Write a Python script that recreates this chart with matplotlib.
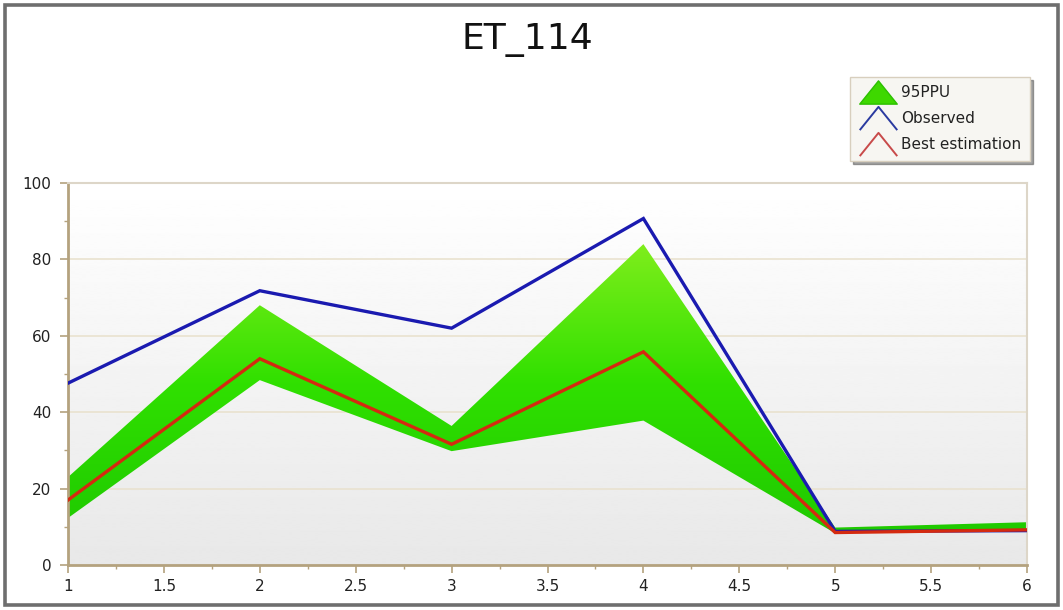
import numpy as np
import matplotlib
matplotlib.use("Agg")
import matplotlib.pyplot as plt
from matplotlib.lines import Line2D
from matplotlib.path import Path
from matplotlib.patches import Rectangle
from matplotlib.ticker import MultipleLocator, FuncFormatter
from matplotlib.colors import LinearSegmentedColormap

# Series values
x = [1, 2, 3, 4, 5, 6]
observed = [47.6, 71.8, 62.0, 90.7, 8.8, 9.0]
ppu_upper = [23.0, 68.0, 36.4, 84.0, 9.8, 11.2]
ppu_lower = [12.3, 48.4, 29.8, 37.8, 8.3, 9.0]
best_est = [17.0, 54.0, 31.6, 55.8, 8.5, 9.2]

title = "ET_114"
labels = ["95PPU", "Observed", "Best estimation"]

W, H, DPI = 1063, 610, 100
fig = plt.figure(figsize=(W / DPI, H / DPI), dpi=DPI)
fig.patch.set_facecolor("white")

# outer frame around the whole chart
fig.add_artist(Rectangle((5 / W, 5 / H), 1 - 10 / W, 1 - 10 / H,
                         transform=fig.transFigure, fill=False,
                         edgecolor="#6e6e6e", linewidth=2.6, zorder=0))

ax = fig.add_axes([68 / W, 45 / H, (1027 - 68) / W, (565 - 183) / H])

# plot-area background: white fading to light grey
bg = np.linspace(0.91, 1.0, 256).reshape(-1, 1)
ax.imshow(bg, extent=(1, 6, 0, 100), origin="lower", aspect="auto",
          cmap="gray", vmin=0, vmax=1, zorder=0, interpolation="bilinear")

# horizontal grid
for gy in [20, 40, 60, 80, 100]:
    ax.axhline(gy, color="#e9e2cf", linewidth=1.2, zorder=1)

# 95PPU band with vertical green gradient
band = ax.fill_between(x, ppu_lower, ppu_upper, color="none", linewidth=0, zorder=2)
gcmap = LinearSegmentedColormap.from_list("g", ["#1ec800", "#30e000", "#8cf020"])
grad = np.linspace(0, 1, 256).reshape(-1, 1)
im = ax.imshow(grad, extent=(1, 6, 5, 90), origin="lower", aspect="auto",
               cmap=gcmap, zorder=2, interpolation="bilinear")
im.set_clip_path(band.get_paths()[0], transform=ax.transData)

ax.plot(x, observed, color="#1a1ab0", linewidth=2.4, zorder=3,
        solid_joinstyle="miter")
ax.plot(x, best_est, color="#d42a10", linewidth=2.4, zorder=4,
        solid_joinstyle="miter")

ax.set_xlim(1, 6)
ax.set_ylim(0, 100)

# axes styling
for side in ["left", "bottom"]:
    ax.spines[side].set_color("#b4a27e")
    ax.spines[side].set_linewidth(2.0)
for side in ["top", "right"]:
    ax.spines[side].set_color("#ddd6c8")
    ax.spines[side].set_linewidth(1.5)

ax.xaxis.set_major_locator(MultipleLocator(0.5))
ax.xaxis.set_minor_locator(MultipleLocator(0.25))
ax.yaxis.set_major_locator(MultipleLocator(20))
ax.yaxis.set_minor_locator(MultipleLocator(10))
ax.xaxis.set_major_formatter(FuncFormatter(lambda v, p: f"{v:g}"))
ax.tick_params(axis="both", which="major", length=6, width=1.2,
               color="#b4a27e", labelsize=11, labelcolor="#222222")
ax.tick_params(axis="both", which="minor", length=3, width=1.0,
               color="#b4a27e")
ax.tick_params(axis="y", pad=6)
ax.tick_params(axis="x", pad=4)

fig.text(527 / W, 1 - 40 / H, title, ha="center", va="center",
         fontsize=26, color="#111111")

# legend with chevron / triangle icons
tri = Path([(-1, -0.62), (0, 0.62), (1, -0.62), (-1, -0.62)],
           [Path.MOVETO, Path.LINETO, Path.LINETO, Path.CLOSEPOLY])
chevron = Path([(-1, -0.62), (0, 0.62), (1, -0.62)],
               [Path.MOVETO, Path.LINETO, Path.LINETO])
handles = [
    Line2D([], [], linestyle="none", marker=tri, markersize=27,
           markerfacecolor="#3ed800", markeredgecolor="#2cc000"),
    Line2D([], [], linestyle="none", marker=chevron, markersize=27,
           markerfacecolor="none", markeredgecolor="#2a3aa0", markeredgewidth=1.4),
    Line2D([], [], linestyle="none", marker=chevron, markersize=27,
           markerfacecolor="none", markeredgecolor="#c84a4a", markeredgewidth=1.4),
]
leg = fig.legend(handles, labels, loc="upper right",
                 bbox_to_anchor=(1030 / W, 1 - 77 / H),
                 fontsize=11, frameon=True, fancybox=False, shadow=True,
                 handlelength=2.5, handletextpad=0.3, labelspacing=0.72,
                 borderpad=0.55, borderaxespad=0)
leg.get_frame().set_edgecolor("#d8cfbe")
leg.get_frame().set_facecolor("#f7f6f2")
leg.get_frame().set_linewidth(1.0)
for t in leg.get_texts():
    t.set_color("#222222")

fig.savefig("out.png", dpi=DPI)
